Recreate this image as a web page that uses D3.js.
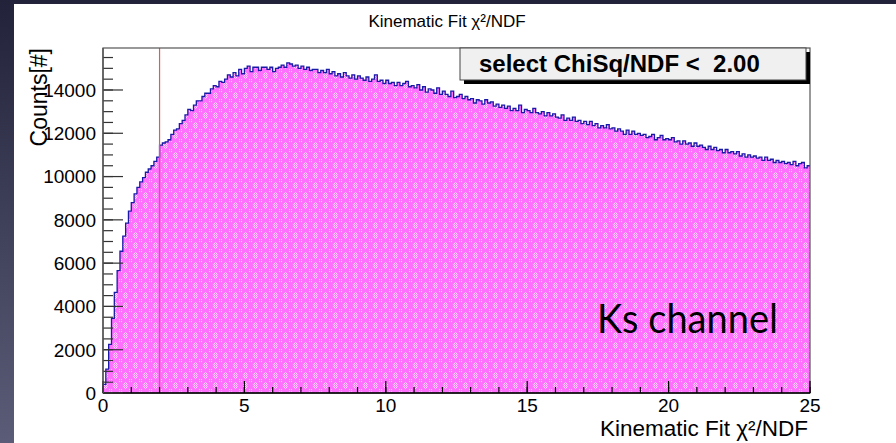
<!DOCTYPE html>
<html>
<head>
<meta charset="utf-8">
<script src="https://cdn.jsdelivr.net/npm/d3@7"></script>
<style>
  body { margin: 0; background: #000; }
  svg { display: block; }
  text { font-family: "Liberation Sans", Arial, sans-serif; }
</style>
</head>
<body>
<div id="chart"></div>
<script>
/* Kinematic fit chi2/NDF histogram (ROOT style) */

// Bin contents, 250 bins of width 0.1 from 0 to 25
const binCounts = [
  400, 1100, 2250, 3450, 4650, 5650, 6550, 7250, 7850, 8400,
  8800, 9200, 9500, 9750, 9950, 10200, 10350, 10500, 10700, 10900,
  11450, 11550, 11600, 11700, 11950, 12150, 12200, 12450, 12600, 12850,
  13100, 13050, 13300, 13500, 13500, 13700, 13850, 13850, 14050, 14200,
  14150, 14400, 14350, 14500, 14700, 14600, 14800, 14650, 14950, 14750,
  15000, 15100, 14850, 15050, 15050, 14900, 15050, 15050, 14950, 15050,
  14850, 15000, 15050, 15150, 15050, 15250, 15200, 15100, 15150, 15000,
  15100, 14950, 15050, 14900, 14950, 14950, 14800, 14900, 14800, 14950,
  14750, 14850, 14650, 14750, 14600, 14800, 14650, 14550, 14700, 14500,
  14650, 14550, 14450, 14600, 14400, 14500, 14700, 14400, 14450, 14300,
  14450, 14300, 14350, 14200, 14350, 14200, 14300, 14400, 14150, 14200,
  14100, 14250, 14000, 14150, 13900, 14050, 14000, 13850, 14100, 13800,
  13950, 13800, 13700, 13950, 13650, 13700, 13800, 13600, 13700, 13550,
  13600, 13400, 13550, 13500, 13350, 13550, 13400, 13450, 13250, 13350,
  13200, 13300, 13150, 13250, 13050, 13150, 13050, 13300, 12950, 13100,
  13050, 12950, 13150, 12950, 12900, 13000, 12800, 12950, 12800, 12900,
  12750, 12700, 12850, 12600, 12700, 12600, 12750, 12550, 12600, 12450,
  12550, 12400, 12550, 12350, 12450, 12250, 12350, 12250, 12400, 12200,
  12250, 12100, 12200, 12100, 11950, 12150, 11950, 12100, 11950, 12000,
  11900, 11950, 11800, 11850, 11950, 11700, 11800, 11900, 11700, 11750,
  11700, 11800, 11600, 11650, 11500, 11650, 11500, 11550, 11400, 11550,
  11400, 11450, 11350, 11250, 11400, 11250, 11350, 11200, 11250, 11100,
  11250, 11100, 11150, 11050, 11150, 10950, 11050, 10900, 11000, 10900,
  10950, 10850, 10900, 10750, 10900, 10750, 10800, 10650, 10750, 10650,
  10700, 10600, 10650, 10550, 10700, 10500, 10600, 10650, 10400, 10500
];

const xRange = [0, 25];
const yRange = [0, 15940];
const xMajorTicks = [0, 5, 10, 15, 20, 25];
const xTickLabels = ["0", "5", "10", "15", "20", "25"];
const xMinorTicks = d3.range(0, 26, 1);
const yMajorTicks = [0, 2000, 4000, 6000, 8000, 10000, 12000, 14000];
const yTickLabels = ["0", "2000", "4000", "6000", "8000", "10000", "12000", "14000"];
const yMinorTicks = d3.range(0, 15501, 500);
const cutValue = 2.0;
const legendText = "select ChiSq/NDF <  2.00";
const channelText = "Ks channel";

const W = 896, H = 443;
const frame = { left: 103, right: 810, top: 48, bottom: 393 };

const svg = d3.select("#chart").append("svg")
  .attr("width", W)
  .attr("height", H);

const defs = svg.append("defs");

// slide background gradient (left strip)
const grad = defs.append("linearGradient")
  .attr("id", "slideGrad")
  .attr("x1", 0).attr("y1", 0).attr("x2", 0).attr("y2", 1);
grad.append("stop").attr("offset", "0%").attr("stop-color", "#22223a");
grad.append("stop").attr("offset", "100%").attr("stop-color", "#5b5d78");

// ROOT-like dotted fill: light dot clusters on magenta
const tile = 10;
const pat = defs.append("pattern")
  .attr("id", "dots")
  .attr("patternUnits", "userSpaceOnUse")
  .attr("width", tile)
  .attr("height", tile);
pat.append("rect").attr("width", tile).attr("height", tile).attr("fill", "#ff70ff");
[[5, 2], [4, 3], [6, 3], [3, 4], [5, 4], [7, 4], [4, 5], [6, 5], [5, 6], [3, 6], [7, 6], [4, 7], [6, 7], [5, 8],
 [1, 1], [9, 9], [1, 9], [9, 1]]
  .forEach(([px, py]) => {
    pat.append("rect")
      .attr("x", px).attr("y", py)
      .attr("width", 1).attr("height", 1)
      .attr("fill", "#ffd8ff");
  });

svg.append("rect").attr("width", W).attr("height", H).attr("fill", "url(#slideGrad)");
svg.append("rect").attr("x", 14).attr("y", 4).attr("width", W - 14).attr("height", H - 4)
  .attr("fill", "#ffffff");

const x = d3.scaleLinear().domain(xRange).range([frame.left, frame.right]);
const y = d3.scaleLinear().domain(yRange).range([frame.bottom, frame.top]);

// histogram
const binWidth = (xRange[1] - xRange[0]) / binCounts.length;
const steps = binCounts.map((v, i) => [xRange[0] + i * binWidth, v]);
steps.push([xRange[1], binCounts[binCounts.length - 1]]);

const area = d3.area()
  .x((d) => x(d[0]))
  .y0(y(0))
  .y1((d) => y(d[1]))
  .curve(d3.curveStepAfter);

svg.append("path")
  .datum(steps)
  .attr("d", area)
  .attr("fill", "url(#dots)");

const outline = [[xRange[0], 0]].concat(steps);
svg.append("path")
  .datum(outline)
  .attr("d", d3.line().x((d) => x(d[0])).y((d) => y(d[1])).curve(d3.curveStepAfter))
  .attr("fill", "none")
  .attr("stroke", "#1a1aa8")
  .attr("stroke-width", 1.3);

// cut line
svg.append("line")
  .attr("x1", x(cutValue)).attr("x2", x(cutValue))
  .attr("y1", frame.top).attr("y2", frame.bottom)
  .attr("stroke", "#e05a5a")
  .attr("stroke-width", 1.2);

// frame
svg.append("rect")
  .attr("x", frame.left).attr("y", frame.top)
  .attr("width", frame.right - frame.left)
  .attr("height", frame.bottom - frame.top)
  .attr("fill", "none")
  .attr("stroke", "#555")
  .attr("stroke-width", 1.2);

// x axis ticks (drawn inward)
const xAxisG = svg.append("g").attr("transform", `translate(0,${frame.bottom})`);
xAxisG.selectAll(".xminor").data(xMinorTicks).enter().append("line")
  .attr("x1", (d) => x(d)).attr("x2", (d) => x(d))
  .attr("y1", 0).attr("y2", -6)
  .attr("stroke", "#000").attr("stroke-width", 1.2);
xAxisG.selectAll(".xmajor").data(xMajorTicks).enter().append("line")
  .attr("x1", (d) => x(d)).attr("x2", (d) => x(d))
  .attr("y1", 0).attr("y2", -12)
  .attr("stroke", "#000").attr("stroke-width", 1.2);
xAxisG.append("line")
  .attr("x1", frame.left).attr("x2", frame.right)
  .attr("stroke", "#000").attr("stroke-width", 1.4);
xAxisG.selectAll(".xlab").data(xMajorTicks).enter().append("text")
  .attr("x", (d) => x(d))
  .attr("y", 19)
  .attr("text-anchor", "middle")
  .style("font-size", "19px")
  .text((d, i) => xTickLabels[i]);

// y axis ticks
const yAxisG = svg.append("g").attr("transform", `translate(${frame.left},0)`);
yAxisG.selectAll(".yminor").data(yMinorTicks).enter().append("line")
  .attr("x1", 0).attr("x2", 10)
  .attr("y1", (d) => y(d)).attr("y2", (d) => y(d))
  .attr("stroke", "#333").attr("stroke-width", 1.2);
yAxisG.selectAll(".ymajor").data(yMajorTicks).enter().append("line")
  .attr("x1", 0).attr("x2", 20)
  .attr("y1", (d) => y(d)).attr("y2", (d) => y(d))
  .attr("stroke", "#333").attr("stroke-width", 1.2);
yAxisG.append("line")
  .attr("y1", frame.top).attr("y2", frame.bottom)
  .attr("stroke", "#555").attr("stroke-width", 1.4);
yAxisG.selectAll(".ylab").data(yMajorTicks).enter().append("text")
  .attr("x", -7)
  .attr("y", (d) => y(d))
  .attr("dy", "0.36em")
  .attr("text-anchor", "end")
  .style("font-size", "19px")
  .text((d, i) => yTickLabels[i]);

// titles
svg.append("text")
  .attr("x", 447).attr("y", 27)
  .attr("text-anchor", "middle")
  .style("font-size", "17px")
  .text("Kinematic Fit χ²/NDF");

svg.append("text")
  .attr("x", 808).attr("y", 436)
  .attr("text-anchor", "end")
  .style("font-size", "22.5px")
  .text("Kinematic Fit χ²/NDF");

svg.append("text")
  .attr("transform", `translate(47,${frame.top}) rotate(-90)`)
  .attr("text-anchor", "end")
  .style("font-size", "23px")
  .text("Counts[#]");

// legend box with shadow
svg.append("rect")
  .attr("x", 464).attr("y", 52).attr("width", 346).attr("height", 32)
  .attr("fill", "#000");
svg.append("rect")
  .attr("x", 460).attr("y", 48).attr("width", 346).attr("height", 32)
  .attr("fill", "#f0f0f0")
  .attr("stroke", "#444")
  .attr("stroke-width", 1);
svg.append("text")
  .attr("x", 479).attr("y", 72)
  .style("font-size", "24px")
  .style("font-weight", "bold")
  .style("white-space", "pre")
  .attr("xml:space", "preserve")
  .text(legendText);

svg.append("text")
  .attr("x", 597).attr("y", 333)
  .attr("textLength", 181)
  .attr("lengthAdjust", "spacingAndGlyphs")
  .style("font-family", "Lato, 'Open Sans', sans-serif")
  .style("font-size", "41px")
  .text(channelText);
</script>
</body>
</html>
